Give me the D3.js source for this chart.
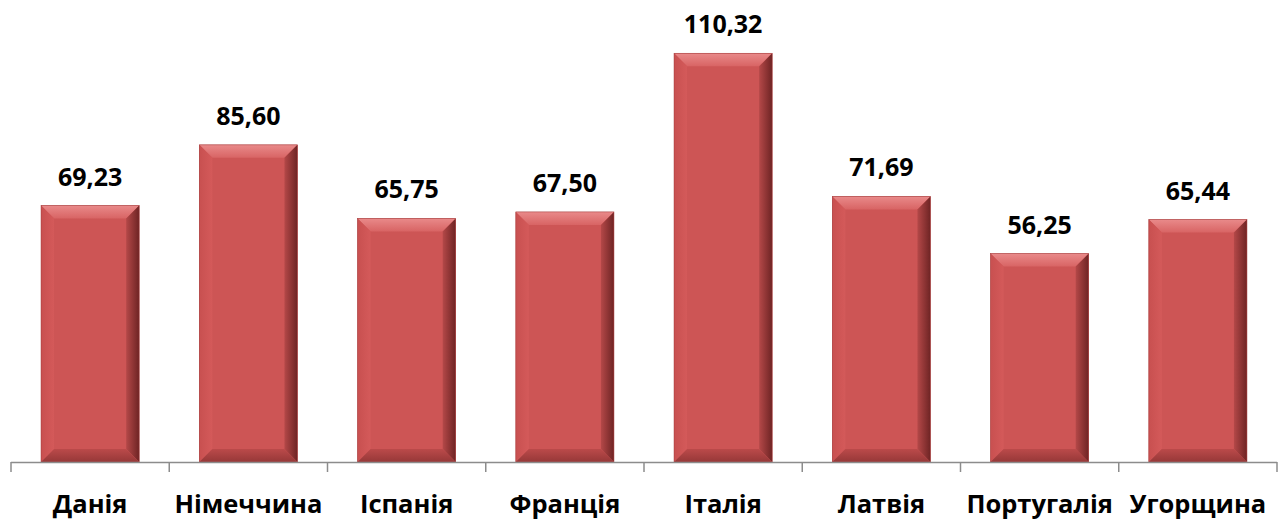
<!DOCTYPE html>
<html lang="en">
<head>
    <meta charset="UTF-8">
    <title>Bar chart</title>
    <script src="https://d3js.org/d3.v7.min.js"></script>
    <style>
        body { margin: 0; background: #fff; }
        svg { display: block; }
        text { font-family: "Open Sans", "Noto Sans", sans-serif; font-weight: bold; fill: #000; }
    </style>
</head>
<body>
    <svg id="chart" width="1286" height="519"></svg>
    <script>
        const countries = ["Данія", "Німеччина", "Іспанія", "Франція", "Італія", "Латвія", "Португалія", "Угорщина"];
        const values = [69.23, 85.60, 65.75, 67.50, 110.32, 71.69, 56.25, 65.44];
        const valueLabels = ["69,23", "85,60", "65,75", "67,50", "110,32", "71,69", "56,25", "65,44"];

        const svg = d3.select("#chart");
        const baseY = 462;

        const x = d3.scaleBand()
            .domain(countries)
            .range([11, 1277])
            .paddingInner(0.38)
            .paddingOuter(0.19);

        const y = d3.scaleLinear()
            .domain([0, 124.7])
            .range([baseY, 0]);

        const defs = svg.append("defs");
        const gTop = defs.append("linearGradient").attr("id", "gTop").attr("x1", 0).attr("y1", 0).attr("x2", 0).attr("y2", 1);
        gTop.append("stop").attr("offset", "0%").attr("stop-color", "#e98a8a");
        gTop.append("stop").attr("offset", "100%").attr("stop-color", "#d86464");
        const gRight = defs.append("linearGradient").attr("id", "gRight").attr("x1", 0).attr("y1", 0).attr("x2", 1).attr("y2", 0);
        gRight.append("stop").attr("offset", "0%").attr("stop-color", "#b44848");
        gRight.append("stop").attr("offset", "100%").attr("stop-color", "#6e2424");
        const gLeft = defs.append("linearGradient").attr("id", "gLeft").attr("x1", 0).attr("y1", 0).attr("x2", 1).attr("y2", 0);
        gLeft.append("stop").attr("offset", "0%").attr("stop-color", "#c85050");
        gLeft.append("stop").attr("offset", "100%").attr("stop-color", "#d45a5a");
        const gBottom = defs.append("linearGradient").attr("id", "gBottom").attr("x1", 0).attr("y1", 0).attr("x2", 0).attr("y2", 1);
        gBottom.append("stop").attr("offset", "0%").attr("stop-color", "#bb4a4a");
        gBottom.append("stop").attr("offset", "100%").attr("stop-color", "#963838");

        const b = 13; // bevel size
        const bars = svg.selectAll("g.bar")
            .data(countries)
            .enter()
            .append("g")
            .attr("class", "bar");

        bars.each(function(d, i) {
            const g = d3.select(this);
            const x0 = x(d), x1 = x(d) + x.bandwidth();
            const y0 = y(values[i]), y1 = baseY;
            const poly = pts => pts.map(p => p.join(",")).join(" ");
            g.append("rect").attr("x", x0).attr("y", y0).attr("width", x1 - x0).attr("height", y1 - y0).attr("fill", "#cd5555");
            g.append("polygon").attr("points", poly([[x0, y0], [x1, y0], [x1 - b, y0 + b], [x0 + b, y0 + b]])).attr("fill", "url(#gTop)");
            g.append("polygon").attr("points", poly([[x0, y0], [x0 + b, y0 + b], [x0 + b, y1 - b], [x0, y1]])).attr("fill", "url(#gLeft)");
            g.append("polygon").attr("points", poly([[x1, y0], [x1, y1], [x1 - b, y1 - b], [x1 - b, y0 + b]])).attr("fill", "url(#gRight)");
            g.append("polygon").attr("points", poly([[x0, y1], [x1, y1], [x1 - b, y1 - b], [x0 + b, y1 - b]])).attr("fill", "url(#gBottom)");
            g.append("rect").attr("x", x0).attr("y", y0).attr("width", x1 - x0).attr("height", y1 - y0)
                .attr("fill", "none").attr("stroke", "#a84040").attr("stroke-width", 0.6);
        });

        svg.selectAll("text.value")
            .data(countries)
            .enter()
            .append("text")
            .attr("class", "value")
            .attr("x", d => x(d) + x.bandwidth() / 2)
            .attr("y", (d, i) => y(values[i]) - 20)
            .attr("text-anchor", "middle")
            .style("font-size", "25px")
            .text((d, i) => valueLabels[i]);

        // category axis
        const step = (1277 - 11) / countries.length;
        const axis = svg.append("g");
        axis.append("line").attr("x1", 11).attr("x2", 1277).attr("y1", baseY + 0.5).attr("y2", baseY + 0.5)
            .attr("stroke", "#8c8c8c").attr("stroke-width", 1.5);
        axis.selectAll("line.tick")
            .data(d3.range(countries.length + 1))
            .enter()
            .append("line")
            .attr("x1", i => 11 + i * step)
            .attr("x2", i => 11 + i * step)
            .attr("y1", baseY)
            .attr("y2", baseY + 10)
            .attr("stroke", "#8c8c8c")
            .attr("stroke-width", 1.5);

        svg.selectAll("text.cat")
            .data(countries)
            .enter()
            .append("text")
            .attr("class", "cat")
            .attr("x", d => x(d) + x.bandwidth() / 2)
            .attr("y", 513)
            .attr("text-anchor", "middle")
            .style("font-size", "25.5px")
            .text(d => d);
    </script>
</body>
</html>
